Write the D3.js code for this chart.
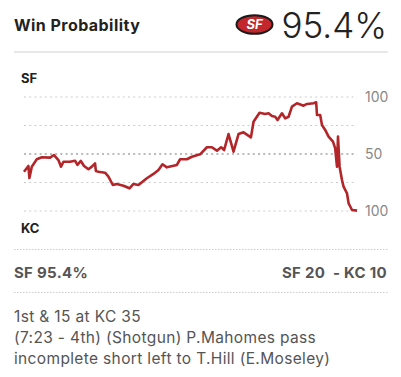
<!DOCTYPE html>
<html>
<head>
<meta charset="utf-8">
<script src="https://cdn.jsdelivr.net/npm/d3@7"></script>
<style>
  html, body { margin: 0; padding: 0; background: #fff; }
  svg { display: block; font-family: Inter, "Noto Sans", sans-serif; }
</style>
</head>
<body>
<svg id="chart" width="401" height="377"></svg>
<script>
// play index and SF win probability (%)
const plays = [0, 2.2, 2.7, 3.9, 6.4, 8.9, 13, 15, 17.2, 18.5, 19.7, 23, 25.5, 26.7, 28.4, 30,
    32.2, 33.9, 35.5, 35.9, 37.2, 40.5, 42.2, 44.4, 46.4, 49.7, 52.7, 54.7, 57.2, 58.9, 61.4,
    64.7, 67.2, 69.2, 71.4, 76.4, 78, 81.4, 83.9, 88, 91.4, 93.9, 96.4, 98.5, 100, 102.2, 104.7,
    107.2, 109.7, 113.4, 114.7, 117.7, 120.5, 122.2, 123.9, 125.5, 126.7, 128.9, 130.5, 132.2,
    133.9, 136.4, 139.7, 141.4, 144.7, 146, 146.4, 148, 148.9, 150.5, 152.2, 154.4, 155.5, 156.4,
    156.9, 157.7, 158.9, 159.7, 161.4, 162.2, 163.9, 166.4];
const sfWinProb = [34.5, 39.5, 28.9, 38.9, 45.4, 47.1, 46.8, 49.1, 44.7, 38.9, 43.2, 43.2, 44.1,
    40.4, 43.9, 39.5, 36.6, 38.9, 41.8, 35.1, 34.5, 33.6, 30.1, 22.8, 23.7, 22.2, 19.9, 23.7,
    22.8, 25.2, 28.7, 32.5, 36.0, 41.0, 38.3, 40.4, 45.4, 45.4, 47.6, 49.7, 55.9, 55.9, 52.9,
    55.9, 53.5, 67.5, 52.0, 67.5, 69.0, 64.6, 78.3, 86.2, 85.1, 85.7, 83.3, 82.7, 79.8, 85.7,
    81.3, 82.7, 91.5, 94.5, 92.4, 93.9, 94.5, 95.4, 84.2, 84.2, 75.4, 71.1, 65.2, 60.8, 55.0,
    38.9, 65.2, 38.9, 27.2, 21.3, 15.5, 6.8, 0.9, 0.3];

const gridValues = [100, 75, 50, 25, 0];
const axisValues = [100, 50, 0];
const axisLabels = ['100', '50', '100'];

const headerTitle = 'Win Probability';
const headerValue = '95.4%';
const footLeft = 'SF 95.4%';
const footRight = 'SF 20\u00a0\u00a0- KC 10';
const playText = [
    '1st & 15 at KC 35',
    '(7:23 - 4th) (Shotgun) P.Mahomes pass',
    'incomplete short left to T.Hill (E.Moseley)'
];

const svg = d3.select('#chart');

// header
svg.append('text')
    .attr('x', 14).attr('y', 30.5)
    .attr('font-size', 16).attr('font-weight', 700)
    .attr('letter-spacing', 0.45)
    .attr('fill', '#222')
    .text(headerTitle);

// 49ers oval logo
const logo = svg.append('g').attr('transform', 'translate(254.5,24.5)');
logo.append('ellipse')
    .attr('rx', 18).attr('ry', 9.3)
    .attr('fill', '#c1272d').attr('stroke', '#1a1a1a').attr('stroke-width', 2);
logo.append('text')
    .attr('text-anchor', 'middle').attr('y', 4.5)
    .attr('font-size', 13).attr('font-weight', 700)
    .attr('font-style', 'italic')
    .attr('fill', '#fff')
    .text('SF');

svg.append('text')
    .attr('x', 387).attr('y', 38)
    .attr('text-anchor', 'end')
    .attr('font-size', 35).attr('font-weight', 300)
    .attr('fill', '#222')
    .text(headerValue);

svg.append('line')
    .attr('x1', 14).attr('x2', 388).attr('y1', 52).attr('y2', 52)
    .attr('stroke', '#e0e0e0').attr('stroke-width', 1.5);

// chart
const x = d3.scaleLinear().domain([0, d3.max(plays)]).range([24, 357]);
const y = d3.scaleLinear().domain([0, 100]).range([211, 97]);

svg.append('text').attr('x', 21).attr('y', 82.5)
    .attr('font-size', 13).attr('font-weight', 700).attr('fill', '#222').text('SF');
svg.append('text').attr('x', 21).attr('y', 232.5)
    .attr('font-size', 13).attr('font-weight', 700).attr('fill', '#222').text('KC');

svg.append('g')
    .selectAll('line')
    .data(gridValues)
    .join('line')
    .attr('x1', 24).attr('x2', 357)
    .attr('y1', d => y(d)).attr('y2', d => y(d))
    .attr('stroke', d => d === 50 ? '#777' : '#ccc')
    .attr('stroke-width', 1)
    .attr('stroke-dasharray', '2,3.2');

svg.append('g')
    .selectAll('text')
    .data(axisValues)
    .join('text')
    .attr('x', 365)
    .attr('y', d => y(d) + 5)
    .attr('font-size', 14)
    .attr('fill', '#888')
    .text((d, i) => axisLabels[i]);

const line = d3.line()
    .x((d, i) => x(plays[i]))
    .y(d => y(d));

svg.append('path')
    .datum(sfWinProb)
    .attr('fill', 'none')
    .attr('stroke', '#b2262a')
    .attr('stroke-width', 2.6)
    .attr('stroke-linejoin', 'round')
    .attr('d', line);

svg.append('line')
    .attr('x1', 14).attr('x2', 388).attr('y1', 249.5).attr('y2', 249.5)
    .attr('stroke', '#ccc').attr('stroke-width', 1)
    .attr('stroke-dasharray', '1.5,1.5');

// footer
svg.append('text').attr('x', 14).attr('y', 277.5)
    .attr('font-size', 15).attr('font-weight', 700)
    .attr('letter-spacing', 0.3).attr('fill', '#555')
    .text(footLeft);
svg.append('text').attr('x', 387).attr('y', 277.5)
    .attr('text-anchor', 'end')
    .attr('font-size', 15).attr('font-weight', 700)
    .attr('letter-spacing', 0.3).attr('fill', '#555')
    .text(footRight);

svg.append('line')
    .attr('x1', 14).attr('x2', 388).attr('y1', 292.5).attr('y2', 292.5)
    .attr('stroke', '#ccc').attr('stroke-width', 1)
    .attr('stroke-dasharray', '1.5,1.5');

svg.append('g')
    .selectAll('text')
    .data(playText)
    .join('text')
    .attr('x', 14)
    .attr('y', (d, i) => 321.5 + i * 21)
    .attr('font-size', 15.5)
    .attr('letter-spacing', 0.35)
    .attr('fill', '#555')
    .text(d => d);
</script>
</body>
</html>
